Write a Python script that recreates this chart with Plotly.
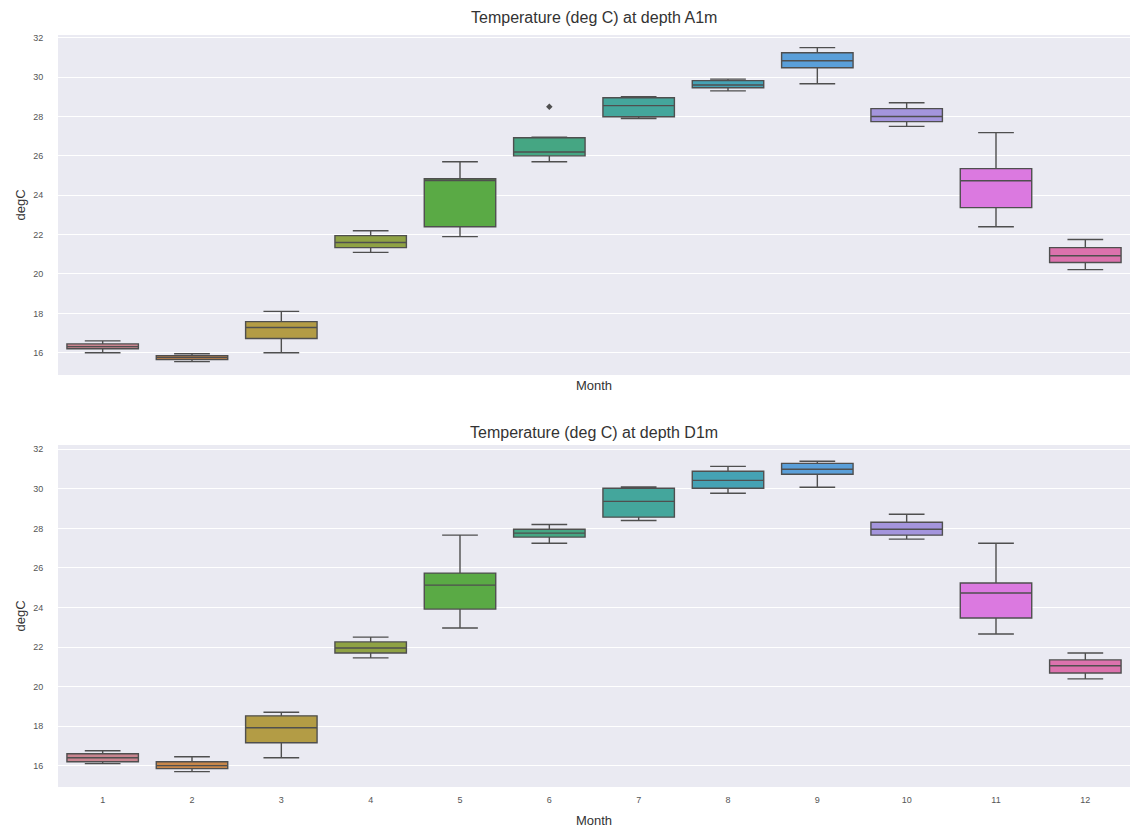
import plotly.graph_objects as go
from plotly.subplots import make_subplots

months = ["1", "2", "3", "4", "5", "6", "7", "8", "9", "10", "11", "12"]
y_ticks = [16, 18, 20, 22, 24, 26, 28, 30, 32]

# Depth A1m box statistics
a_low = [16.0, 15.55, 16.0, 21.1, 21.9, 25.7, 27.9, 29.3, 29.66, 27.5, 22.4, 20.22]
a_q1 = [16.2, 15.65, 16.72, 21.34, 22.4, 26.0, 27.99, 29.46, 30.48, 27.74, 23.37, 20.58]
a_med = [16.31, 15.75, 17.28, 21.6, 24.75, 26.2, 28.55, 29.6, 30.83, 28.0, 24.74, 20.93]
a_q3 = [16.45, 15.85, 17.58, 21.95, 24.84, 26.92, 28.95, 29.82, 31.24, 28.4, 25.35, 21.34]
a_high = [16.6, 15.95, 18.1, 22.2, 25.7, 26.95, 29.0, 29.9, 31.5, 28.7, 27.18, 21.75]
a_out_month = ["6"]
a_out_val = [28.5]

# Depth D1m box statistics
d_low = [16.1, 15.7, 16.4, 21.45, 22.96, 27.25, 28.4, 29.78, 30.08, 27.46, 22.66, 20.39]
d_q1 = [16.2, 15.85, 17.16, 21.7, 23.92, 27.56, 28.57, 30.03, 30.74, 27.66, 23.47, 20.69]
d_med = [16.4, 16.0, 17.92, 21.95, 25.13, 27.76, 29.37, 30.43, 30.99, 27.96, 24.73, 21.05]
d_q3 = [16.6, 16.2, 18.52, 22.26, 25.74, 27.96, 30.03, 30.89, 31.29, 28.31, 25.24, 21.35]
d_high = [16.75, 16.45, 18.7, 22.5, 27.66, 28.2, 30.1, 31.14, 31.4, 28.72, 27.25, 21.7]

titles = ["Temperature (deg C) at depth A1m", "Temperature (deg C) at depth D1m"]

colors = ["#c9848f", "#c8874a", "#b39c45", "#8fa244", "#5aaa45", "#45a683",
          "#44a69c", "#45a2b4", "#5a9fd9", "#a495dd", "#db79e0", "#dc72ad"]
edge = "#4f4f4f"

fig = make_subplots(rows=2, cols=1, vertical_spacing=0.0931)

def add_boxes(row, low, q1, med, q3, high):
    for i, m in enumerate(months):
        fig.add_trace(go.Box(
            x=[m], q1=[q1[i]], median=[med[i]], q3=[q3[i]],
            lowerfence=[low[i]], upperfence=[high[i]],
            fillcolor=colors[i], line=dict(color=edge, width=1.4),
            whiskerwidth=0.5, width=0.8, boxpoints=False,
            showlegend=False, hoverinfo="skip",
        ), row=row, col=1)

add_boxes(1, a_low, a_q1, a_med, a_q3, a_high)
add_boxes(2, d_low, d_q1, d_med, d_q3, d_high)

fig.add_trace(go.Scatter(
    x=a_out_month, y=a_out_val, mode="markers",
    marker=dict(symbol="diamond", size=5, color=edge),
    showlegend=False, hoverinfo="skip"), row=1, col=1)

font = "Liberation Sans, Arial, sans-serif"
axis_common = dict(showline=False, zeroline=False, automargin=False,
                   ticks="outside", tickcolor="rgba(0,0,0,0)",
                   tickfont=dict(size=9, color="#555555", family=font))

for r, so in ((1, 1), (2, 12)):
    fig.update_xaxes(type="category", categoryorder="array", categoryarray=months,
                     range=[-0.5, 11.5], showgrid=False, ticklen=4,
                     title=dict(text="Month", font=dict(size=13, color="#333333", family=font),
                                standoff=so),
                     row=r, col=1, **axis_common)
    fig.update_yaxes(tickvals=y_ticks, showgrid=True, gridcolor="white", gridwidth=1,
                     ticklen=12,
                     title=dict(text="degC", font=dict(size=13, color="#333333", family=font),
                                standoff=4),
                     row=r, col=1, **axis_common)

fig.update_xaxes(showticklabels=False, row=1, col=1)
fig.update_yaxes(range=[14.87, 32.14], row=1, col=1)
fig.update_yaxes(range=[14.92, 32.22], row=2, col=1)

fig.update_layout(
    width=1130, height=832,
    margin=dict(l=58, r=0, t=35, b=45, autoexpand=False),
    paper_bgcolor="white", plot_bgcolor="#eaeaf2",
    font=dict(family=font, color="#333333"),
    showlegend=False,
)
fig.update_layout(yaxis=dict(domain=[0.5479, 1.0]), yaxis2=dict(domain=[0.0, 0.4548]))

# Subplot titles
fig.add_annotation(text=titles[0], x=0.5, xref="paper", y=1.0, yref="paper",
                   yanchor="bottom", yshift=7, showarrow=False,
                   font=dict(size=16, color="#333333", family=font))
fig.add_annotation(text=titles[1], x=0.5, xref="paper", y=0.4548, yref="paper",
                   yanchor="bottom", yshift=2, showarrow=False,
                   font=dict(size=16, color="#333333", family=font))

post = ("document.body.style.margin='0';document.body.style.padding='0';"
        "document.body.style.overflow='hidden';"
        "document.documentElement.style.overflow='hidden';")
fig.write_html("out.html", config={"responsive": False, "displayModeBar": False},
               post_script=post)
